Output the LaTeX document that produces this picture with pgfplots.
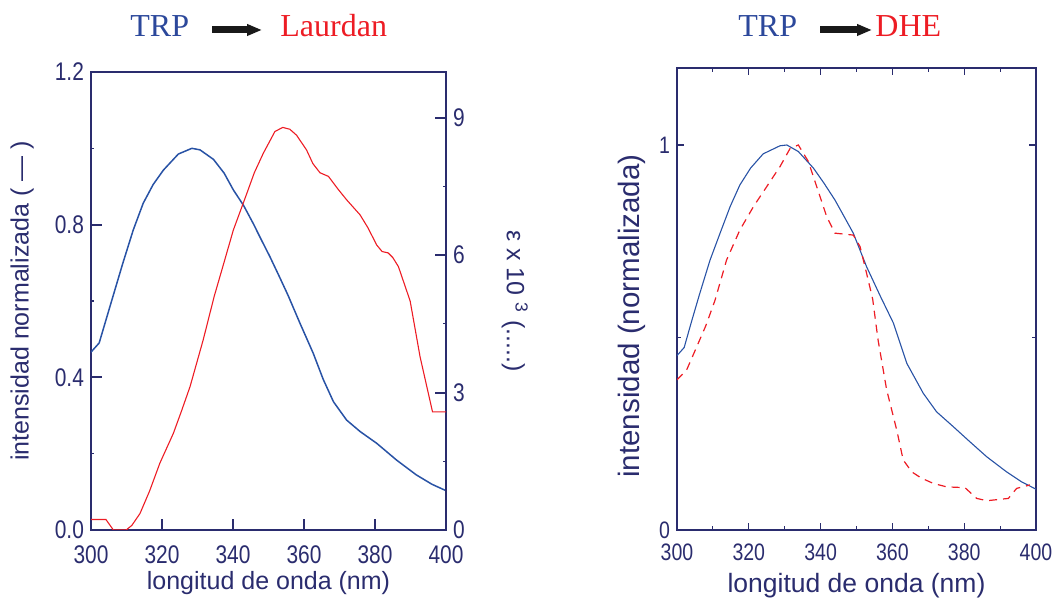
\documentclass[border=0pt]{standalone}
\usepackage{fontspec}
\setmainfont{Liberation Sans}
\newfontfamily\tickfont[FakeStretch=0.82]{Liberation Sans}
\newfontfamily\titlefont{Liberation Serif}
\usepackage{pgfplots}
\pgfplotsset{compat=1.18}
\usetikzlibrary{arrows.meta}
\definecolor{navy}{RGB}{42,44,110}
\definecolor{trpblue}{RGB}{44,72,155}
\definecolor{curveblue}{RGB}{40,82,165}
\definecolor{lred}{RGB}{237,28,36}
\begin{document}
\begin{tikzpicture}
\path[use as bounding box] (0,0) rectangle (527.5pt,299pt);
% ---------- left panel, left axis ----------
\begin{axis}[
 at={(45.5pt,34pt)}, anchor=south west,
 scale only axis, width=177.5pt, height=229pt,
 xmin=300, xmax=400, ymin=0, ymax=1.2,
 xtick={300,320,...,400}, ytick={0,0.4,0.8,1.2}, minor ytick={0.2,0.6,1.0},
 xtick pos=bottom, ytick pos=left, tick align=inside,
 major tick length=5.5pt, minor tick length=1.5pt,
 axis line style={draw=navy, line width=1.25pt},
 major tick style={draw=navy, line width=1pt},
 minor tick style={draw=navy, line width=0.6pt},
 /pgf/number format/assume math mode=true,
 tick label style={font=\tickfont\fontsize{12.75}{15}\selectfont, text=navy},
 xticklabel style={yshift=-4.5pt},
 yticklabel style={/pgf/number format/fixed, /pgf/number format/fixed zerofill, /pgf/number format/precision=1},
 xlabel={longitud de onda (nm)}, ylabel={intensidad normalizada ( — )},
 label style={font=\fontsize{12.5}{15}\selectfont, text=navy},
 xlabel style={at={(axis description cs:0.5,-0.131)}, anchor=base},
 ylabel style={at={(axis description cs:-0.194,0.5)}, anchor=center},
]
\addplot[curveblue, line width=0.75pt] coordinates {
(300,0.466)(302.3,0.49)(305.8,0.60)(309,0.70)(311.9,0.786)(314.7,0.856)(317.5,0.905)(320.4,0.943)(324.6,0.985)(328.4,1.0)(330.7,0.996)(334.5,0.971)(337.5,0.935)(340.1,0.891)(343,0.85)(345.7,0.803)(348,0.76)(350.4,0.716)(353,0.665)(355.5,0.615)(358.9,0.541)(362.6,0.463)(365.4,0.395)(368.3,0.336)(372,0.288)(375.8,0.258)(380.5,0.227)(386.1,0.183)(391.7,0.144)(396,0.12)(400,0.103)
};
\end{axis}
% ---------- left panel, right axis ----------
\begin{axis}[
 at={(45.5pt,34pt)}, anchor=south west,
 scale only axis, width=177.5pt, height=229pt,
 xmin=300, xmax=400, ymin=0, ymax=10,
 axis x line=none, axis y line*=right,
 ytick={0,3,6,9}, minor ytick={1.5,4.5,7.5}, tick align=inside,
 major tick length=5.5pt, minor tick length=1.5pt,
 axis line style={draw=navy, line width=1.25pt},
 major tick style={draw=navy, line width=1pt},
 minor tick style={draw=navy, line width=0.6pt},
 /pgf/number format/assume math mode=true,
 tick label style={font=\tickfont\fontsize{12.75}{15}\selectfont, text=navy},
 ylabel={ε x 10 \textsuperscript{3} (.....)},
 label style={font=\fontsize{12.5}{15}\selectfont, text=navy},
 ylabel style={at={(axis description cs:1.194,0.5)}, anchor=center, rotate=180},
]
\addplot[lred, line width=0.55pt] coordinates {
(300,0.23)(304.2,0.23)(306.3,0)(309.9,0)(311.5,0.1)(313.8,0.36)(316.5,0.85)(319.4,1.46)(323.2,2.11)(325.5,2.6)(327.9,3.13)(331.6,4.15)(334.7,5.1)(337.5,5.85)(340.1,6.55)(343.9,7.35)(346,7.8)(348.5,8.22)(351.8,8.70)(354,8.79)(356,8.75)(357.9,8.62)(360.7,8.30)(362.5,8.0)(364.5,7.80)(366.9,7.72)(369.5,7.45)(372,7.21)(375.8,6.88)(378,6.6)(380.5,6.22)(382,6.08)(383.7,6.05)(385,5.95)(386.6,5.75)(389.9,5.0)(392.7,3.78)(396.2,2.58)(400,2.58)
};
\end{axis}
% ---------- right panel ----------
\begin{axis}[
 at={(338.5pt,34pt)}, anchor=south west,
 scale only axis, width=179.5pt, height=231pt,
 xmin=300, xmax=400, ymin=0, ymax=1.2,
 xtick={300,320,...,400}, minor xtick={310,330,...,390},
 ytick={0,1}, minor ytick={0.5},
 tick align=inside,
 major tick length=3.5pt, minor tick length=2pt,
 axis line style={draw=navy, line width=0.6pt},
 major tick style={draw=navy, line width=0.6pt},
 minor tick style={draw=navy, line width=0.5pt},
 /pgf/number format/assume math mode=true,
 tick label style={font=\tickfont\fontsize{11.9}{14}\selectfont, text=navy},
 xticklabel style={inner ysep=0pt, yshift=-6.5pt},
 yticklabel style={inner ysep=0pt},
 xlabel={longitud de onda (nm)}, ylabel={intensidad (normalizada)},
 xlabel style={font=\fontsize{13.25}{15}\selectfont, text=navy, at={(axis description cs:0.5,-0.136)}, anchor=base},
 ylabel style={font=\fontsize{14.75}{17}\selectfont, text=navy, at={(axis description cs:-0.125,0.463)}, anchor=center},
]
\addplot[curveblue, line width=0.55pt] coordinates {
(300,0.453)(302,0.474)(304,0.54)(306.2,0.61)(309.2,0.701)(312,0.771)(314.8,0.84)(317.5,0.896)(320.5,0.94)(324,0.977)(328.7,0.998)(330.6,1.0)(333.8,0.983)(338,0.94)(341,0.9)(344,0.857)(346.5,0.815)(349.1,0.771)(352.8,0.684)(356.5,0.61)(360.3,0.537)(364,0.433)(368.6,0.355)(372.3,0.307)(377,0.268)(381.6,0.229)(386.3,0.19)(391.8,0.151)(396,0.125)(400,0.106)
};
\addplot[lred, line width=0.6pt, dash pattern=on 4pt off 3pt] coordinates {
(300,0.39)(302.7,0.416)(305.5,0.476)(308,0.53)(310.6,0.597)(313.8,0.701)(317.5,0.779)(321.3,0.84)(325,0.892)(328.7,0.944)(331.5,0.991)(333.8,1.0)(336.6,0.957)(338.9,0.892)(341.7,0.814)(344,0.771)(349.1,0.766)(351,0.736)(352.8,0.667)(354.5,0.6)(356,0.494)(358.4,0.364)(361.2,0.26)(363,0.182)(365.4,0.151)(368,0.135)(371.4,0.121)(375.1,0.112)(380.2,0.11)(383.5,0.082)(386.3,0.076)(392.3,0.082)(394.6,0.108)(398.3,0.117)
};
\end{axis}
% ---------- titles ----------
\node[anchor=base west, inner sep=0pt, font=\titlefont\fontsize{16}{18}\selectfont, text=trpblue] at (65pt,280.5pt) {TRP};
\draw[black!90, line width=3.5pt, -{Triangle[length=7.5pt,width=5.5pt]}] (106pt,284pt) -- (131pt,284pt);
\node[anchor=base west, inner sep=0pt, font=\titlefont\fontsize{16}{18}\selectfont, text=lred] at (140pt,280.5pt) {Laurdan};
\node[anchor=base west, inner sep=0pt, font=\titlefont\fontsize{16}{18}\selectfont, text=trpblue] at (369pt,280.5pt) {TRP};
\draw[black!90, line width=3.5pt, -{Triangle[length=7.5pt,width=5.5pt]}] (410pt,284pt) -- (436pt,284pt);
\node[anchor=base west, inner sep=0pt, font=\titlefont\fontsize{16}{18}\selectfont, text=lred] at (437.5pt,280.5pt) {DHE};
\end{tikzpicture}
\end{document}
